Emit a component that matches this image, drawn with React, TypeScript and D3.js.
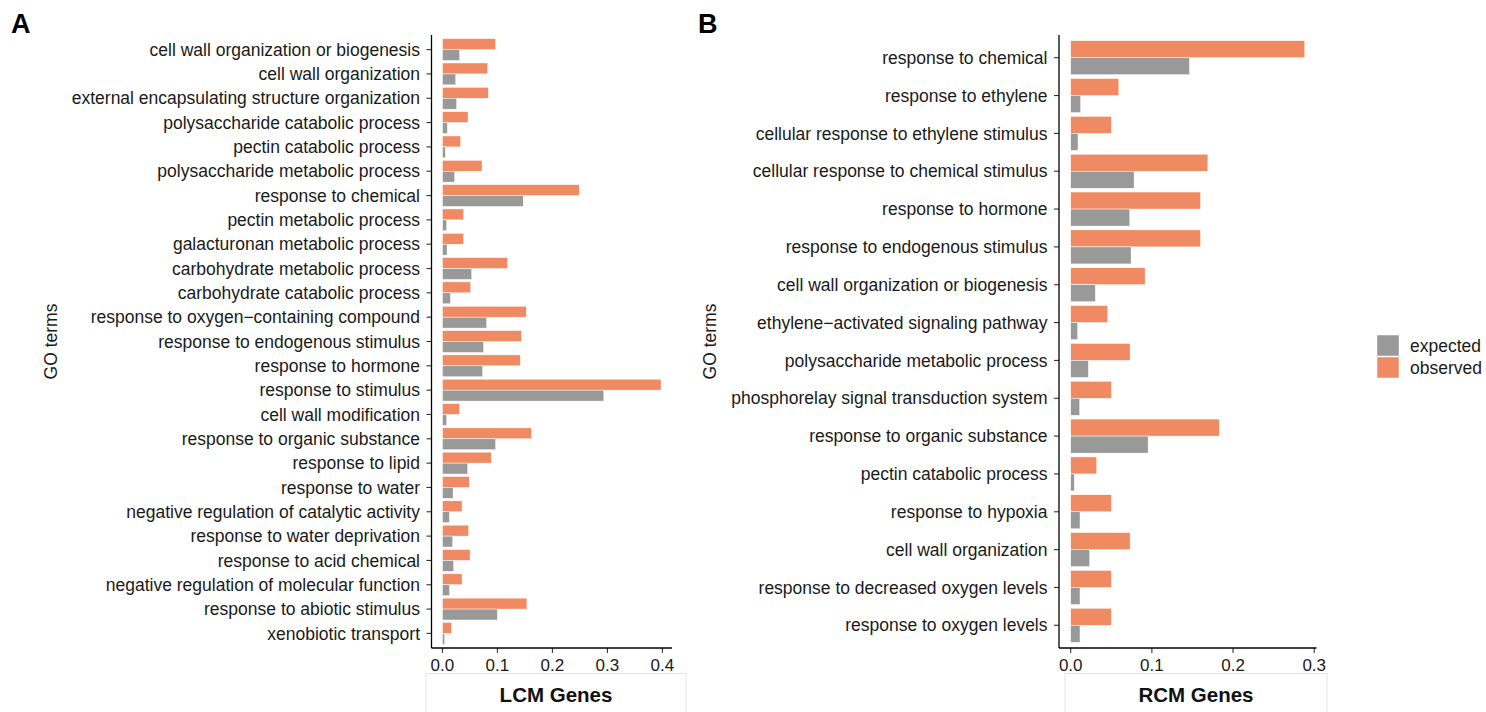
import React from "react";
import * as d3 from "d3";

// GO enrichment: observed vs expected gene ratios
const lcmTerms = [
  "cell wall organization or biogenesis",
  "cell wall organization",
  "external encapsulating structure organization",
  "polysaccharide catabolic process",
  "pectin catabolic process",
  "polysaccharide metabolic process",
  "response to chemical",
  "pectin metabolic process",
  "galacturonan metabolic process",
  "carbohydrate metabolic process",
  "carbohydrate catabolic process",
  "response to oxygen\u2212containing compound",
  "response to endogenous stimulus",
  "response to hormone",
  "response to stimulus",
  "cell wall modification",
  "response to organic substance",
  "response to lipid",
  "response to water",
  "negative regulation of catalytic activity",
  "response to water deprivation",
  "response to acid chemical",
  "negative regulation of molecular function",
  "response to abiotic stimulus",
  "xenobiotic transport",
];
const lcmObserved = [
  0.0968, 0.0823, 0.0835, 0.0466, 0.0333, 0.072, 0.2488, 0.0387, 0.0387, 0.1186,
  0.0515, 0.1525, 0.144, 0.1416, 0.3976, 0.0315, 0.1622, 0.089, 0.049, 0.0357,
  0.0478, 0.0503, 0.0357, 0.1537, 0.0169,
];
const lcmExpected = [
  0.0315, 0.0242, 0.026, 0.0091, 0.0054, 0.0224, 0.147, 0.0079, 0.0085, 0.0533,
  0.0145, 0.0805, 0.075, 0.0732, 0.2935, 0.0079, 0.0968, 0.046, 0.0194, 0.0127,
  0.0188, 0.0206, 0.013, 0.0999, 0.0042,
];

const rcmTerms = [
  "response to chemical",
  "response to ethylene",
  "cellular response to ethylene stimulus",
  "cellular response to chemical stimulus",
  "response to hormone",
  "response to endogenous stimulus",
  "cell wall organization or biogenesis",
  "ethylene\u2212activated signaling pathway",
  "polysaccharide metabolic process",
  "phosphorelay signal transduction system",
  "response to organic substance",
  "pectin catabolic process",
  "response to hypoxia",
  "cell wall organization",
  "response to decreased oxygen levels",
  "response to oxygen levels",
];
const rcmObserved = [
  0.2884, 0.0593, 0.0502, 0.169, 0.16, 0.16, 0.0917, 0.0457, 0.0732, 0.0502,
  0.1831, 0.0321, 0.0502, 0.0732, 0.0502, 0.0502,
];
const rcmExpected = [
  0.1464, 0.0123, 0.009, 0.0781, 0.0728, 0.0744, 0.0304, 0.0086, 0.0218, 0.0111,
  0.0954, 0.0045, 0.0115, 0.0234, 0.0115, 0.0115,
];

const lcmTicks = [0, 0.1, 0.2, 0.3, 0.4];
const rcmTicks = [0, 0.1, 0.2, 0.3];

const legendItems = ["expected", "observed"];
const COLORS: Record<string, string> = { expected: "#999999", observed: "#EF8A62" };

const FONT = "'Liberation Sans', Arial, Helvetica, sans-serif";
const TEXT = "#1a1a1a";
const FS = 17.5;

type PanelProps = {
  tag: string;
  terms: string[];
  observed: number[];
  expected: number[];
  ticks: number[];
  title: string;
  axisLeft: number;
  axisRight: number;
  top: number;
  bottom: number;
  tagX: number;
  yTitleX: number;
  boxLeft: number;
  boxRight: number;
};

function Panel(p: PanelProps) {
  const maxV = d3.max([...p.observed, ...p.expected]) as number;
  const ex = maxV * 0.05;
  const x = d3.scaleLinear().domain([-ex, maxV + ex]).range([p.axisLeft, p.axisRight]);
  const y = d3.scalePoint<string>().domain(p.terms).range([p.top, p.bottom]).padding(0.6);
  const bh = y.step() * 0.45;
  const fmt = d3.format(".1f");
  return (
    <g>
      <text x={p.tagX} y={33} fontFamily={FONT} fontWeight="bold" fontSize={27} fill="#000">
        {p.tag}
      </text>
      {p.terms.map((t, i) => {
        const cy = y(t) as number;
        return (
          <g key={t}>
            <rect
              x={x(0)}
              y={cy - bh}
              width={x(p.observed[i]) - x(0)}
              height={bh}
              fill={COLORS.observed}
              stroke="#fff"
              strokeWidth={0.5}
            />
            <rect
              x={x(0)}
              y={cy}
              width={x(p.expected[i]) - x(0)}
              height={bh}
              fill={COLORS.expected}
              stroke="#fff"
              strokeWidth={0.5}
            />
            <line x1={p.axisLeft - 5} x2={p.axisLeft} y1={cy} y2={cy} stroke="#333" strokeWidth={1.1} />
            <text
              x={p.axisLeft - 11.5}
              y={cy}
              dy="0.35em"
              textAnchor="end"
              fontFamily={FONT}
              fontSize={FS}
              fill={TEXT}
            >
              {t}
            </text>
          </g>
        );
      })}
      {p.ticks.map((t) => (
        <g key={t}>
          <line x1={x(t)} x2={x(t)} y1={p.bottom} y2={p.bottom + 5} stroke="#333" strokeWidth={1.1} />
          <text
            x={x(t)}
            y={p.bottom + 17}
            dy="0.35em"
            textAnchor="middle"
            fontFamily={FONT}
            fontSize={17}
            fill={TEXT}
          >
            {fmt(t)}
          </text>
        </g>
      ))}
      <line x1={p.axisLeft} x2={p.axisLeft} y1={p.top} y2={p.bottom} stroke="#000" strokeWidth={1.3} />
      <line x1={p.axisLeft} x2={p.axisRight} y1={p.bottom} y2={p.bottom} stroke="#000" strokeWidth={1.3} />
      <text
        transform={`translate(${p.yTitleX},${(p.top + p.bottom) / 2}) rotate(-90)`}
        textAnchor="middle"
        fontFamily={FONT}
        fontSize={FS}
        fill={TEXT}
      >
        GO terms
      </text>
      <rect
        x={p.boxLeft}
        y={673.5}
        width={p.boxRight - p.boxLeft}
        height={60}
        fill="#fff"
        stroke="#e3e3e3"
        strokeWidth={1}
      />
      <text
        x={(p.boxLeft + p.boxRight) / 2}
        y={695}
        dy="0.35em"
        textAnchor="middle"
        fontFamily={FONT}
        fontWeight="bold"
        fontSize={20.5}
        fill="#111"
      >
        {p.title}
      </text>
    </g>
  );
}

export default function App() {
  return (
    <svg
      width={1486}
      height={712}
      style={{ position: "absolute", left: 0, top: 0, background: "#fff" }}
    >
      <rect width={1486} height={712} fill="#fff" />
      <Panel
        tag="A"
        terms={lcmTerms}
        observed={lcmObserved}
        expected={lcmExpected}
        ticks={lcmTicks}
        title="LCM Genes"
        axisLeft={431.5}
        axisRight={672}
        top={35}
        bottom={648}
        tagX={11}
        yTitleX={57}
        boxLeft={426}
        boxRight={686}
      />
      <Panel
        tag="B"
        terms={rcmTerms}
        observed={rcmObserved}
        expected={rcmExpected}
        ticks={rcmTicks}
        title="RCM Genes"
        axisLeft={1059}
        axisRight={1316.5}
        top={35}
        bottom={648}
        tagX={698}
        yTitleX={716}
        boxLeft={1065}
        boxRight={1327}
      />
      {legendItems.map((k, i) => (
        <g key={k}>
          <rect x={1377} y={335 + i * 22} width={22} height={21} fill={COLORS[k]} stroke="#fff" strokeWidth={0.5} />
          <text
            x={1410}
            y={345.5 + i * 22}
            dy="0.35em"
            fontFamily={FONT}
            fontSize={FS}
            fill={TEXT}
          >
            {k}
          </text>
        </g>
      ))}
    </svg>
  );
}
